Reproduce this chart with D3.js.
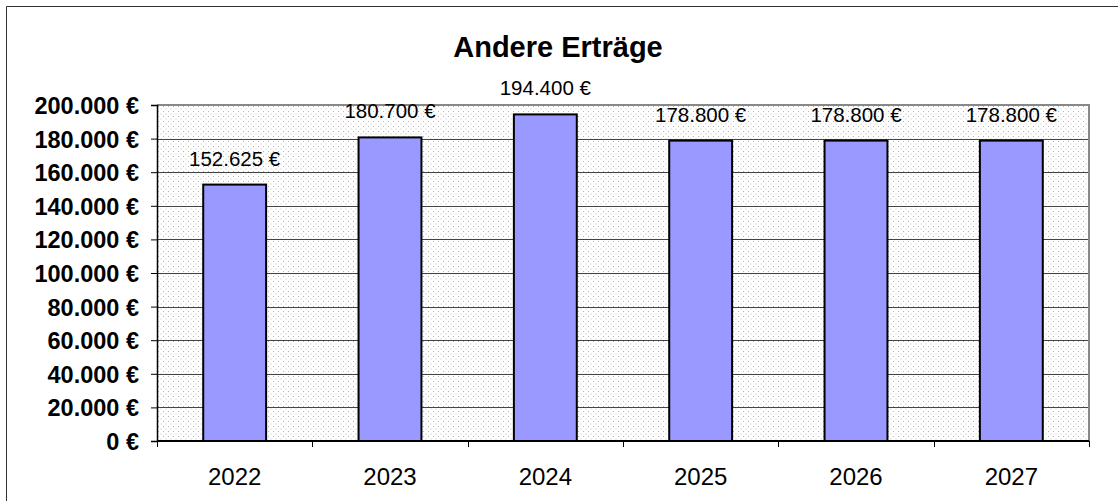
<!DOCTYPE html>
<html>
<head>
<meta charset="utf-8">
<script src="https://cdn.jsdelivr.net/npm/d3@7"></script>
<style>
body { margin: 0; background: #fff; }
text { font-family: "Liberation Sans", Arial, sans-serif; }
</style>
</head>
<body>
<div id="chart"></div>
<script>
var years = ['2022', '2023', '2024', '2025', '2026', '2027'];
var ertraege = [152625, 180700, 194400, 178800, 178800, 178800];
var yTicks = [0, 20000, 40000, 60000, 80000, 100000, 120000, 140000, 160000, 180000, 200000];

var W = 1118, H = 501;
var margin = {top: 105, right: 29, bottom: 60, left: 157};
var width = W - margin.left - margin.right,
    height = H - margin.top - margin.bottom;

// german number format: 200.000 €
var de = d3.formatLocale({decimal: ',', thousands: '.', grouping: [3], currency: ['', ' €']});
var fmt = de.format('$,.0f');

var svg = d3.select('#chart').append('svg')
    .attr('width', W)
    .attr('height', H);

// dotted plot background
var defs = svg.append('defs');
var pat = defs.append('pattern')
    .attr('id', 'dots')
    .attr('patternUnits', 'userSpaceOnUse')
    .attr('width', 5).attr('height', 5);
pat.append('rect').attr('width', 5).attr('height', 5).attr('fill', '#fff');
pat.append('rect').attr('x', 1).attr('y', 1).attr('width', 1).attr('height', 1).attr('fill', '#b4b4b4');
pat.append('rect').attr('x', 3.5).attr('y', 3.5).attr('width', 1).attr('height', 1).attr('fill', '#c4c4c4');

// outer frame
svg.append('path')
    .attr('d', 'M6.5,' + H + 'V6.5H' + W)
    .attr('fill', 'none')
    .attr('stroke', '#333')
    .attr('stroke-width', 1);

svg.append('text')
    .attr('x', 558)
    .attr('y', 57)
    .attr('text-anchor', 'middle')
    .style('font-size', '29px')
    .style('font-weight', 'bold')
    .text('Andere Erträge');

var g = svg.append('g')
    .attr('transform', 'translate(' + margin.left + ',' + margin.top + ')');

var x = d3.scaleBand().domain(years).range([0, width]).padding(0);
var y = d3.scaleLinear().domain([0, 200000]).range([height, 0]);

g.append('rect')
    .attr('width', width)
    .attr('height', height)
    .attr('fill', 'url(#dots)');

// gridlines
g.selectAll('.grid')
    .data(yTicks.slice(1, -1))
  .enter().append('line')
    .attr('class', 'grid')
    .attr('x1', 0).attr('x2', width)
    .attr('y1', function(d) { return Math.round(y(d)) + 0.5; })
    .attr('y2', function(d) { return Math.round(y(d)) + 0.5; })
    .attr('stroke', '#444')
    .attr('stroke-width', 1);

// plot border top/right (gray)
g.append('path')
    .attr('d', 'M0,0H' + width + 'V' + height)
    .attr('fill', 'none')
    .attr('stroke', '#888')
    .attr('stroke-width', 2);

// bars
var bw = x.bandwidth() * 0.405;
g.selectAll('.bar')
    .data(ertraege)
  .enter().append('rect')
    .attr('class', 'bar')
    .attr('x', function(d, i) { return x(years[i]) + (x.bandwidth() - bw) / 2; })
    .attr('y', function(d) { return y(d); })
    .attr('width', bw)
    .attr('height', function(d) { return height - y(d); })
    .attr('fill', '#9999ff')
    .attr('stroke', '#000')
    .attr('stroke-width', 2);

// value labels
g.selectAll('.lbl')
    .data(ertraege)
  .enter().append('text')
    .attr('class', 'lbl')
    .attr('x', function(d, i) { return x(years[i]) + x.bandwidth() / 2; })
    .attr('y', function(d) { return y(d) - 19; })
    .attr('text-anchor', 'middle')
    .style('font-size', '20.5px')
    .text(function(d) { return fmt(d); });

// y axis
var yAxis = d3.axisLeft(y).tickValues(yTicks).tickSize(6).tickPadding(12).tickFormat(fmt);
var ya = g.append('g').call(yAxis);
ya.select('.domain').attr('stroke', '#000').attr('stroke-width', 1.5);
ya.selectAll('.tick line').attr('stroke', '#000');
ya.selectAll('text')
    .attr('fill', '#000')
    .style('font-size', '23.5px')
    .style('font-weight', 'bold')
    .attr('dy', '0.36em');

// x axis: ticks at category boundaries
var xa = g.append('g').attr('transform', 'translate(0,' + height + ')');
xa.append('line')
    .attr('x1', 0).attr('x2', width)
    .attr('stroke', '#000').attr('stroke-width', 2);
xa.selectAll('.xt')
    .data(years.concat(['end']))
  .enter().append('line')
    .attr('class', 'xt')
    .attr('x1', function(d, i) { return Math.round(i * x.step()) + 0.5; })
    .attr('x2', function(d, i) { return Math.round(i * x.step()) + 0.5; })
    .attr('y1', 0).attr('y2', 6)
    .attr('stroke', '#000');
xa.selectAll('.xl')
    .data(years)
  .enter().append('text')
    .attr('class', 'xl')
    .attr('x', function(d) { return x(d) + x.bandwidth() / 2; })
    .attr('y', 44)
    .attr('text-anchor', 'middle')
    .style('font-size', '24px')
    .text(function(d) { return d; });
</script>
</body>
</html>
